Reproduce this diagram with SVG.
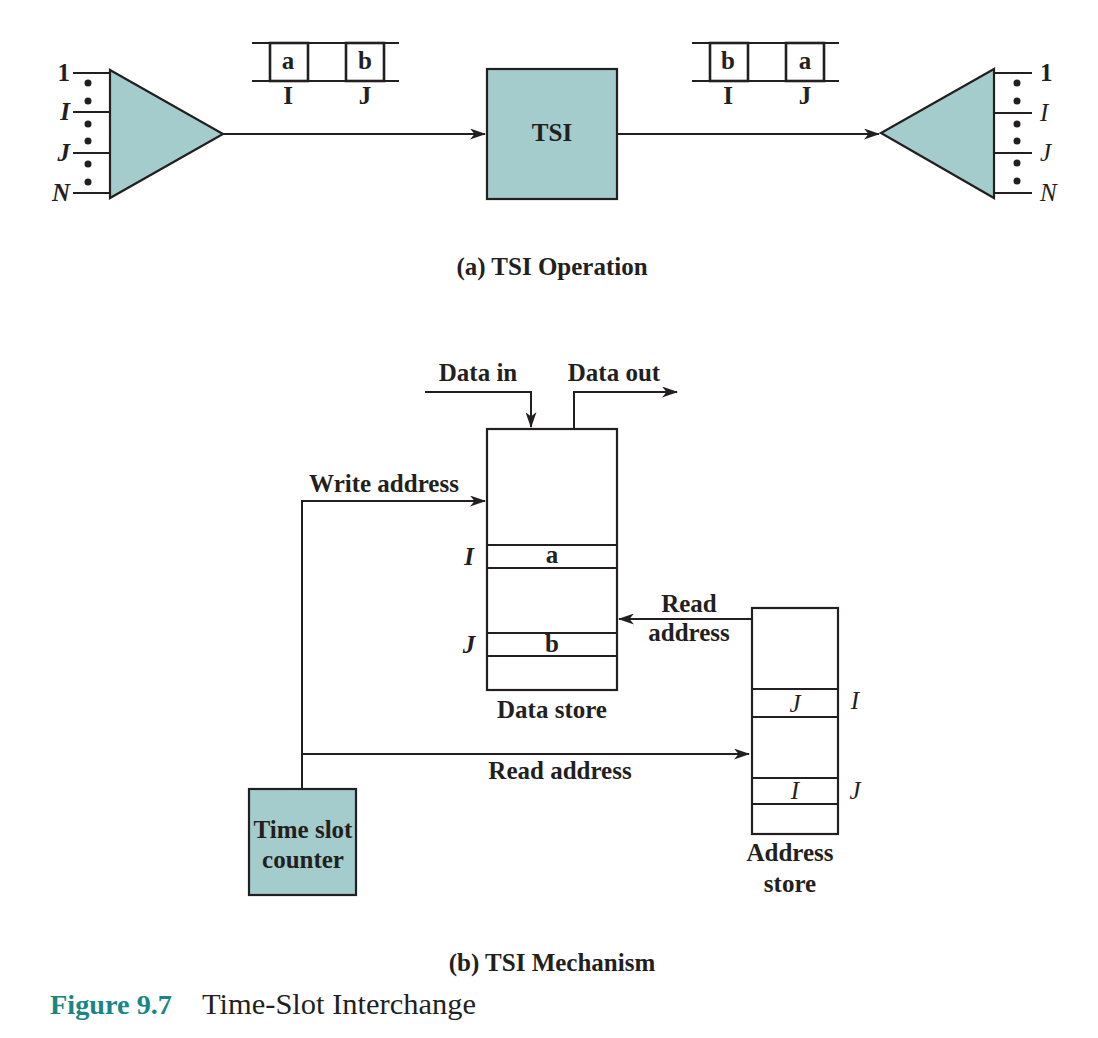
<svg xmlns="http://www.w3.org/2000/svg" width="1098" height="1038" viewBox="0 0 1098 1038">
<defs>
<style>
.ln{stroke:#231f20;stroke-width:2;fill:none}
.bx{stroke:#231f20;stroke-width:2.2;fill:#fff}
.tl{stroke:#231f20;stroke-width:2.2;fill:#a4cccc}
.t{font-family:"Liberation Serif","Times New Roman",serif;font-size:25px;font-weight:bold;fill:#231f20}
.c{text-anchor:middle}
.i{font-style:italic}
.r{font-weight:normal}
.dot{fill:#231f20}
</style>
<marker id="ah" markerWidth="16" markerHeight="11" refX="15" refY="5.5" orient="auto" markerUnits="userSpaceOnUse">
<path d="M0,0 L16,5.5 L0,11 L4.5,5.5 z" fill="#231f20"/>
</marker>
</defs>
<rect width="1098" height="1038" fill="#fff"/>

<g id="connectors">
<line class="ln" x1="223" y1="134" x2="485" y2="134" marker-end="url(#ah)"/>
<line class="ln" x1="617" y1="134" x2="879" y2="134" marker-end="url(#ah)"/>
<polyline class="ln" points="425,392 531,392 531,427" marker-end="url(#ah)"/>
<polyline class="ln" points="574,429 574,392 677,392" marker-end="url(#ah)"/>
<polyline class="ln" points="302,789 302,501 485,501" marker-end="url(#ah)"/>
<line class="ln" x1="302" y1="754" x2="749" y2="754" marker-end="url(#ah)"/>
<line class="ln" x1="752" y1="619" x2="619" y2="619" marker-end="url(#ah)"/>
</g>

<g id="mux">
<line class="ln" x1="73" y1="73" x2="110" y2="73"/>
<line class="ln" x1="73" y1="112" x2="110" y2="112"/>
<line class="ln" x1="73" y1="153" x2="110" y2="153"/>
<line class="ln" x1="73" y1="193" x2="110" y2="193"/>
<polygon class="tl" points="110,70 223,134 110,198"/>
<circle class="dot" cx="88" cy="83" r="3.5"/>
<circle class="dot" cx="88" cy="101" r="3.5"/>
<circle class="dot" cx="88" cy="124" r="3.5"/>
<circle class="dot" cx="88" cy="141" r="3.5"/>
<circle class="dot" cx="88" cy="164" r="3.5"/>
<circle class="dot" cx="88" cy="182" r="3.5"/>
<text class="t" x="70" y="81" text-anchor="end">1</text>
<text class="t i" x="70" y="120" text-anchor="end">I</text>
<text class="t i" x="70" y="161" text-anchor="end">J</text>
<text class="t i" x="70" y="201" text-anchor="end">N</text>
</g>

<g id="frame-in">
<line class="ln" x1="252" y1="43" x2="399" y2="43"/>
<line class="ln" x1="252" y1="81" x2="399" y2="81"/>
<rect x="270" y="43" width="38" height="38" fill="none" stroke="#231f20" stroke-width="2.6"/>
<rect x="346" y="43" width="38" height="38" fill="none" stroke="#231f20" stroke-width="2.6"/>
<text class="t c" x="288" y="69">a</text>
<text class="t c" x="365" y="69">b</text>
<text class="t c" x="288" y="104">I</text>
<text class="t c" x="365" y="104">J</text>
</g>

<g id="tsi">
<rect class="tl" x="487" y="69" width="130" height="130"/>
<text class="t c" x="552" y="141">TSI</text>
</g>

<g id="frame-out">
<line class="ln" x1="692" y1="43" x2="839" y2="43"/>
<line class="ln" x1="692" y1="81" x2="839" y2="81"/>
<rect x="710" y="43" width="38" height="38" fill="none" stroke="#231f20" stroke-width="2.6"/>
<rect x="786" y="43" width="38" height="38" fill="none" stroke="#231f20" stroke-width="2.6"/>
<text class="t c" x="728" y="69">b</text>
<text class="t c" x="805" y="69">a</text>
<text class="t c" x="728" y="104">I</text>
<text class="t c" x="805" y="104">J</text>
</g>

<g id="demux">
<line class="ln" x1="994" y1="73" x2="1032" y2="73"/>
<line class="ln" x1="994" y1="113" x2="1032" y2="113"/>
<line class="ln" x1="994" y1="153" x2="1032" y2="153"/>
<line class="ln" x1="994" y1="193" x2="1032" y2="193"/>
<polygon class="tl" points="994,69 881,133 994,198"/>
<circle class="dot" cx="1017" cy="83" r="3.5"/>
<circle class="dot" cx="1017" cy="101" r="3.5"/>
<circle class="dot" cx="1017" cy="124" r="3.5"/>
<circle class="dot" cx="1017" cy="141" r="3.5"/>
<circle class="dot" cx="1017" cy="163" r="3.5"/>
<circle class="dot" cx="1017" cy="181" r="3.5"/>
<text class="t" x="1040" y="81">1</text>
<text class="t i r" x="1040" y="121">I</text>
<text class="t i r" x="1040" y="161">J</text>
<text class="t i r" x="1040" y="201">N</text>
</g>

<text class="t c" x="552" y="275">(a) TSI Operation</text>

<g id="labels-b">
<text class="t c" x="478" y="381">Data in</text>
<text class="t c" x="614" y="381">Data out</text>
<text class="t c" x="384" y="492">Write address</text>
<text class="t c" x="689" y="612">Read</text>
<text class="t c" x="689" y="641">address</text>
<text class="t c" x="560" y="779">Read address</text>
</g>

<g id="data-store">
<rect class="bx" x="487" y="429" width="130" height="261"/>
<line class="ln" x1="487" y1="545" x2="617" y2="545"/>
<line class="ln" x1="487" y1="568" x2="617" y2="568"/>
<line class="ln" x1="487" y1="633" x2="617" y2="633"/>
<line class="ln" x1="487" y1="656" x2="617" y2="656"/>
<text class="t c" x="552" y="563">a</text>
<text class="t c" x="552" y="652">b</text>
<text class="t i" x="469" y="565" text-anchor="middle">I</text>
<text class="t i" x="469" y="653" text-anchor="middle">J</text>
<text class="t c" x="552" y="718">Data store</text>
</g>

<g id="address-store">
<rect class="bx" x="752" y="608" width="86" height="226"/>
<line class="ln" x1="752" y1="689" x2="838" y2="689"/>
<line class="ln" x1="752" y1="717" x2="838" y2="717"/>
<line class="ln" x1="752" y1="778" x2="838" y2="778"/>
<line class="ln" x1="752" y1="804" x2="838" y2="804"/>
<text class="t c i r" x="795" y="712">J</text>
<text class="t c i r" x="855" y="709">I</text>
<text class="t c i r" x="795" y="799">I</text>
<text class="t c i r" x="855" y="799">J</text>
<text class="t c" x="790" y="861">Address</text>
<text class="t c" x="790" y="892">store</text>
</g>

<g id="time-slot-counter">
<rect class="tl" x="249" y="789" width="107" height="106"/>
<text class="t c" x="303" y="838">Time slot</text>
<text class="t c" x="303" y="868">counter</text>
</g>

<text class="t c" x="552" y="971">(b) TSI Mechanism</text>
<text x="50" y="1014" font-family="Liberation Serif,serif" font-size="28" font-weight="bold" fill="#1b8585" textLength="122" lengthAdjust="spacingAndGlyphs">Figure 9.7</text>
<text x="202" y="1014" font-family="Liberation Serif,serif" font-size="29" fill="#231f20" textLength="274" lengthAdjust="spacingAndGlyphs">Time-Slot Interchange</text>
</svg>
